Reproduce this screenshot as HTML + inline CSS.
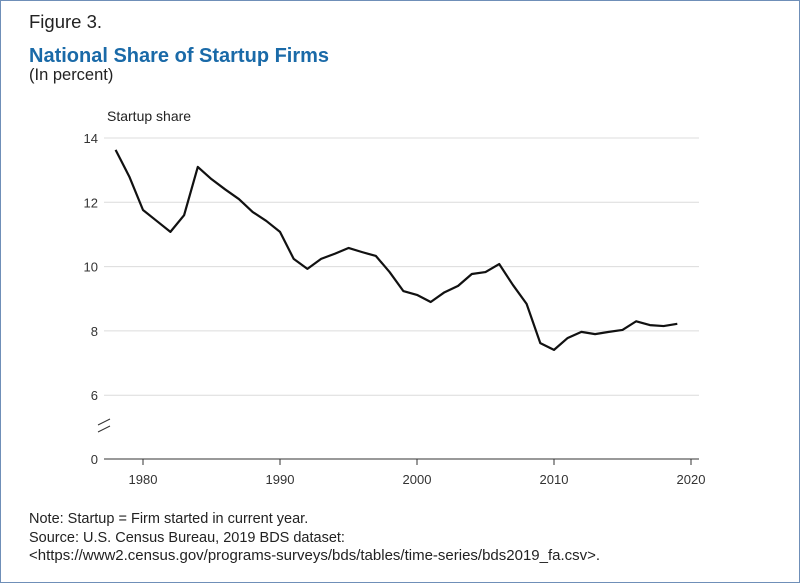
<!DOCTYPE html>
<html><head><meta charset="utf-8"><style>
body{margin:0;background:#fff;}
#wrap{width:798px;height:581px;border:1px solid #6f8fb8;position:relative;font-family:"Liberation Sans",sans-serif;color:#222;}
.t{position:absolute;white-space:nowrap;}
</style></head><body>
<div id="wrap">
<div class="t" style="left:28px;top:10px;font-size:18.5px;">Figure 3.</div>
<div class="t" style="left:28px;top:44px;font-size:20px;font-weight:bold;color:#1a6aa8;">National Share of Startup Firms</div>
<div class="t" style="left:28px;top:65px;font-size:16.5px;">(In percent)</div>
<div class="t" style="left:106px;top:107px;font-size:14px;">Startup share</div>
<svg id="chart" width="800" height="583" style="position:absolute;left:0;top:0"></svg>
<div class="t" style="left:28px;top:510px;font-size:14.5px;">Note: Startup = Firm started in current year.</div>
<div class="t" style="left:28px;top:529px;font-size:14.5px;">Source: U.S. Census Bureau, 2019 BDS dataset:</div>
<div class="t" style="left:28px;top:546px;font-size:15px;">&lt;https://www2.census.gov/programs-surveys/bds/tables/time-series/bds2019_fa.csv&gt;.</div>
</div>
<script>
const years=[1978,1979,1980,1981,1982,1983,1984,1985,1986,1987,1988,1989,1990,1991,1992,1993,1994,1995,1996,1997,1998,1999,2000,2001,2002,2003,2004,2005,2006,2007,2008,2009,2010,2011,2012,2013,2014,2015,2016,2017,2018,2019];
const share=[13.63,12.8,11.76,11.42,11.08,11.6,13.1,12.72,12.4,12.1,11.7,11.42,11.08,10.24,9.93,10.24,10.4,10.58,10.45,10.33,9.83,9.24,9.12,8.9,9.2,9.4,9.77,9.83,10.08,9.43,8.84,7.62,7.41,7.78,7.97,7.9,7.97,8.03,8.3,8.18,8.15,8.22];
const yTicks=[14,12,10,8,6];
const xTicks=[1980,1990,2000,2010,2020];
const svg=document.getElementById('chart');
const NS='http://www.w3.org/2000/svg';
const X=y=>142+(y-1980)*13.7;
const Y=v=>137+(14-v)*32.15;
const x0=103,x1=698,yZero=458;
function mk(t,a){const e=document.createElementNS(NS,t);for(const k in a)e.setAttribute(k,a[k]);svg.appendChild(e);return e;}
yTicks.forEach(v=>{
 const g=mk('line',{x1:x0,x2:x1,y1:Y(v),y2:Y(v),stroke:'#dcdcdc','stroke-width':1});
 
 
 const t=mk('text',{x:97,y:Y(v)+5,'text-anchor':'end','font-size':13,'font-family':'Liberation Sans, sans-serif',fill:'#333'});
 t.textContent=v;
 
 
});
const zt=mk('text',{x:97,y:yZero+5,'text-anchor':'end','font-size':13,'font-family':'Liberation Sans, sans-serif',fill:'#333'});
zt.textContent='0';


const ax=mk('line',{x1:x0,x2:x1,y1:yZero,y2:yZero,stroke:'#333','stroke-width':1});


[[421],[428]].forEach(([y])=>{const b=mk('line',{x1:97,x2:109,y1:y+3,y2:y-3,stroke:'#333','stroke-width':1});

});
xTicks.forEach(yr=>{
 const l=mk('line',{x1:X(yr),x2:X(yr),y1:yZero,y2:yZero+6,stroke:'#333'});
 
 
 const t=mk('text',{x:X(yr),y:yZero+25,'text-anchor':'middle','font-size':13,'font-family':'Liberation Sans, sans-serif',fill:'#333'});
 t.textContent=yr;
 
 
});
const p=mk('polyline',{points:years.map((y,i)=>X(y)+','+Y(share[i])).join(' '),fill:'none',stroke:'#111','stroke-width':2.2,'stroke-linejoin':'round'});


</script>
</body></html>
